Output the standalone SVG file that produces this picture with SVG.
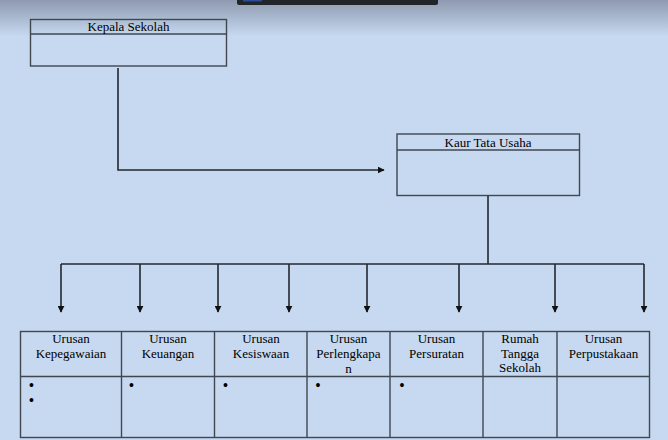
<svg xmlns="http://www.w3.org/2000/svg" width="668" height="440" viewBox="0 0 668 440">
<defs>
<linearGradient id="bg" x1="0" y1="0" x2="0" y2="1">
<stop offset="0" stop-color="#8e9aaf"/>
<stop offset="1" stop-color="#c6d9f0"/>
</linearGradient>
<marker id="arr" viewBox="0 0 10 10" refX="9" refY="5" markerWidth="7" markerHeight="7" markerUnits="userSpaceOnUse" orient="auto">
<path d="M0,0 L10,5 L0,10 z" fill="#111"/>
</marker>
<style>
.box{fill:none;stroke:#41464f;stroke-width:1.4}
.ln{fill:none;stroke:#23272d;stroke-width:1.6}
.t{font-family:"Liberation Serif","Times New Roman",serif;font-size:13px;fill:#000;text-anchor:middle}
.b{font-family:"Liberation Serif","Times New Roman",serif;font-size:14px;fill:#000;font-weight:bold}
</style>
</defs>
<rect width="668" height="440" fill="#c6d9f0"/>
<rect width="668" height="36" fill="url(#bg)"/>
<rect x="237" y="-4" width="201" height="9" rx="2" fill="#212428"/>
<rect x="243" y="0" width="19" height="1.5" fill="#2a4a9a"/>

<g id="kepala">
<rect class="box" x="30.5" y="19.5" width="196" height="46.5"/>
<line class="box" x1="30.5" y1="34" x2="226.5" y2="34"/>
<text class="t" x="128.5" y="31">Kepala Sekolah</text>
</g>

<g id="kaur">
<rect class="box" x="397" y="134" width="182.5" height="61.5"/>
<line class="box" x1="397" y1="150" x2="579.5" y2="150"/>
<text class="t" x="488" y="146.5">Kaur Tata Usaha</text>
</g>

<g id="connectors">
<polyline class="ln" points="118,68 118,170 384,170" marker-end="url(#arr)"/>
<line class="ln" x1="488" y1="196" x2="488" y2="264"/>
<line class="ln" x1="61" y1="264" x2="644" y2="264"/>
<line class="ln" x1="61" y1="264" x2="61" y2="312" marker-end="url(#arr)"/>
<line class="ln" x1="140" y1="264" x2="140" y2="312" marker-end="url(#arr)"/>
<line class="ln" x1="218" y1="264" x2="218" y2="312" marker-end="url(#arr)"/>
<line class="ln" x1="289" y1="264" x2="289" y2="312" marker-end="url(#arr)"/>
<line class="ln" x1="367" y1="264" x2="367" y2="312" marker-end="url(#arr)"/>
<line class="ln" x1="459" y1="264" x2="459" y2="312" marker-end="url(#arr)"/>
<line class="ln" x1="555" y1="264" x2="555" y2="312" marker-end="url(#arr)"/>
<line class="ln" x1="644" y1="264" x2="644" y2="312" marker-end="url(#arr)"/>
</g>

<g id="table">
<rect class="box" x="20.5" y="331.5" width="629" height="106"/>
<line class="box" x1="20.5" y1="376.5" x2="649.5" y2="376.5"/>
<line class="box" x1="121.5" y1="331.5" x2="121.5" y2="437.5"/>
<line class="box" x1="214.5" y1="331.5" x2="214.5" y2="437.5"/>
<line class="box" x1="307" y1="331.5" x2="307" y2="437.5"/>
<line class="box" x1="390" y1="331.5" x2="390" y2="437.5"/>
<line class="box" x1="483" y1="331.5" x2="483" y2="437.5"/>
<line class="box" x1="557" y1="331.5" x2="557" y2="437.5"/>
</g>

<g id="kepegawaian">
<text class="t" x="71" y="343">Urusan</text>
<text class="t" x="71" y="358">Kepegawaian</text>
<text class="b" x="29" y="390">•</text>
<text class="b" x="29" y="405">•</text>
</g>
<g id="keuangan">
<text class="t" x="168" y="343">Urusan</text>
<text class="t" x="168" y="358">Keuangan</text>
<text class="b" x="129" y="390">•</text>
</g>
<g id="kesiswaan">
<text class="t" x="261" y="343">Urusan</text>
<text class="t" x="261" y="358">Kesiswaan</text>
<text class="b" x="223" y="390">•</text>
</g>
<g id="perlengkapan">
<text class="t" x="348.5" y="343">Urusan</text>
<text class="t" x="348.5" y="358">Perlengkapa</text>
<text class="t" x="348.5" y="373">n</text>
<text class="b" x="315.5" y="390">•</text>
</g>
<g id="persuratan">
<text class="t" x="436.5" y="343">Urusan</text>
<text class="t" x="436.5" y="358">Persuratan</text>
<text class="b" x="399.5" y="390">•</text>
</g>
<g id="rumahtangga">
<text class="t" x="520" y="343">Rumah</text>
<text class="t" x="520" y="358">Tangga</text>
<text class="t" x="520" y="372">Sekolah</text>
</g>
<g id="perpustakaan">
<text class="t" x="603.5" y="343">Urusan</text>
<text class="t" x="603.5" y="358">Perpustakaan</text>
</g>
</svg>
